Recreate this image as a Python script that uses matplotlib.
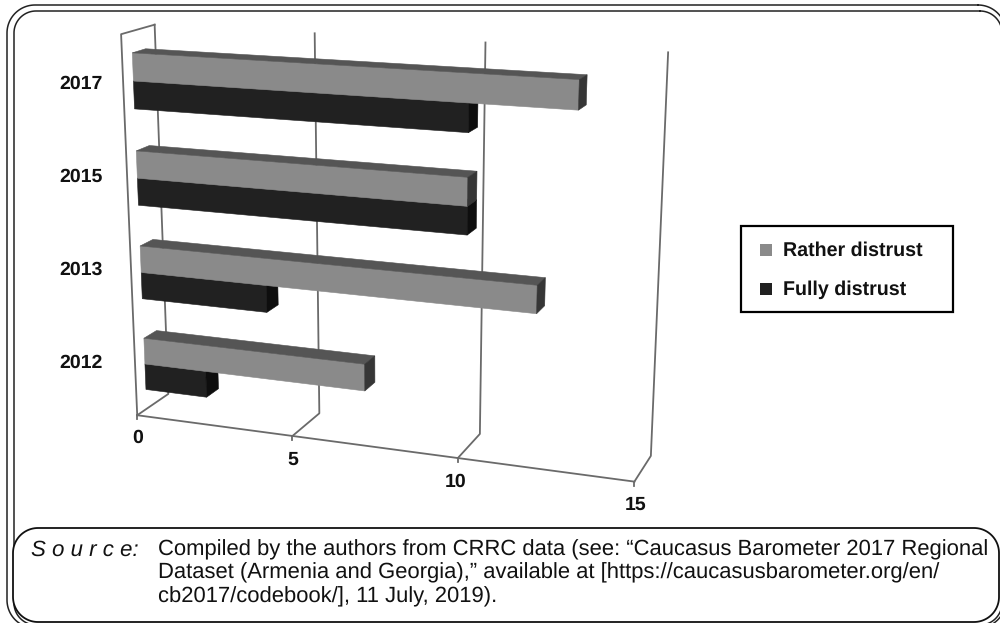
import numpy as np
import matplotlib
matplotlib.use('Agg')
import matplotlib.pyplot as plt
from matplotlib.patches import Polygon, Rectangle

plt.rcParams['font.family'] = ['Liberation Sans', 'DejaVu Sans']
plt.rcParams['text.hinting'] = 'no_hinting'

years = ['2012', '2013', '2015', '2017']
rather_distrust = [7, 12, 10, 13]
fully_distrust = [2, 4, 10, 10]
value_ticks = [0, 5, 10, 15]

source_lines = ['Compiled by the authors from CRRC data (see: \u201cCaucasus Barometer 2017 Regional',
                'Dataset (Armenia and Georgia),\u201d available at [https://caucasusbarometer.org/en/',
                'cb2017/codebook/], 11 July, 2019).']

# camera calibration for the fake 3D box: (value, height, depth) -> pixel
world = np.array([(0, 0, 0), (5, 0, 0), (10, 0, 0), (15, 0, 0), (0, 1, 0),
                  (5, 0, 1), (10, 0, 1), (15, 0, 1),
                  (0, 1, 1), (5, 1, 1), (10, 1, 1), (15, 1, 1)], dtype=float)
pixel = np.array([(137, 415), (293, 437), (458, 458), (634, 481), (121, 34),
                  (319, 413), (480, 433), (651, 457),
                  (155, 25), (314, 33), (486, 43), (668, 52)], dtype=float)


def fit_camera(world, pixel):
    '''
    Fit a 3x4 projection matrix to the calibration points.
    '''
    rows = []
    for (x, y, z), (u, v) in zip(world, pixel):
        rows.append([x, y, z, 1, 0, 0, 0, 0, -u*x, -u*y, -u*z, -u])
        rows.append([0, 0, 0, 0, x, y, z, 1, -v*x, -v*y, -v*z, -v])
    return np.linalg.svd(np.array(rows))[2][-1].reshape(3, 4)


camera = fit_camera(world, pixel)


def project(value, height, depth):
    p = camera @ np.array([value, height, depth, 1.0])
    return p[0] / p[2], p[1] / p[2]


def rounded_rect(x0, y0, x1, y1, r):
    '''
    Outline of a rounded rectangle as a closed polyline.
    '''
    pts = []
    centers = [(x1 - r, y0 + r, -90), (x1 - r, y1 - r, 0), (x0 + r, y1 - r, 90), (x0 + r, y0 + r, 180)]
    for cx, cy, start in centers:
        t = np.radians(np.linspace(start, start + 90, 24))
        pts.extend(zip(cx + r * np.cos(t), cy + r * np.sin(t)))
    pts.append(pts[0])
    return np.array(pts)


DEPTH_FRONT = 0.30
DEPTH_BACK = 0.70
BAR_H = 0.071
LINE = '#6a6a6a'


def draw_bar(ax, value, h0, h1, front, top, side):
    '''
    Draw one bar as its three visible faces.
    '''
    faces = [
        ([(0, h0, DEPTH_FRONT), (value, h0, DEPTH_FRONT), (value, h1, DEPTH_FRONT), (0, h1, DEPTH_FRONT)], front),
        ([(0, h1, DEPTH_FRONT), (value, h1, DEPTH_FRONT), (value, h1, DEPTH_BACK), (0, h1, DEPTH_BACK)], top),
        ([(value, h0, DEPTH_FRONT), (value, h0, DEPTH_BACK), (value, h1, DEPTH_BACK), (value, h1, DEPTH_FRONT)], side),
    ]
    for corners, color in faces:
        ax.add_patch(Polygon([project(*c) for c in corners], closed=True, facecolor=color,
                             edgecolor=color, linewidth=0.4, zorder=4))


fig = plt.figure(figsize=(10, 6.23), dpi=100, facecolor='white')
ax = fig.add_axes([0, 0, 1, 1])
ax.set_xlim(0, 1000)
ax.set_ylim(623, 0)
ax.axis('off')

# outer double frame and the source box
for x0, y0, x1, y1, r in [(7, 5, 1006, 628, 28), (14, 11, 1002, 625, 22)]:
    outline = rounded_rect(x0, y0, x1, y1, r)
    ax.plot(outline[:, 0], outline[:, 1], color='#222222', linewidth=1.1, zorder=1)
ax.add_patch(Polygon(rounded_rect(13, 528, 999, 622, 25), closed=True, facecolor='white',
                     edgecolor='#111111', linewidth=1.3, zorder=2))

# walls and floor
for tick in value_ticks:
    xs, ys = zip(project(tick, 0, 0), project(tick, 0, 1), project(tick, 1, 1))
    ax.plot(xs, ys, color=LINE, linewidth=1.3, zorder=3)
    foot = project(tick, 0, 0)
    ax.plot([foot[0], foot[0]], [foot[1], foot[1] + 4], color=LINE, linewidth=1.3, zorder=3)
xs, ys = zip(project(0, 0, 0), project(15, 0, 0))
ax.plot(xs, ys, color=LINE, linewidth=1.3, zorder=3)
xs, ys = zip(project(0, 0, 0), project(0, 1, 0), project(0, 1, 1))
ax.plot(xs, ys, color=LINE, linewidth=1.3, zorder=3)

# bars, black first so the grey side covers it
label_y = [363, 270, 177, 84]
for i, year in enumerate(years):
    mid = (i + 0.5) / len(years)
    draw_bar(ax, fully_distrust[i], mid - BAR_H, mid, '#212121', '#2c2c2c', '#0e0e0e')
    draw_bar(ax, rather_distrust[i], mid, mid + BAR_H, '#8a8a8a', '#555555', '#363636')
    ax.text(81, label_y[i], year, ha='center', va='center',
            fontsize=14, fontweight='bold', color='#111111', zorder=6)

for tick, dx, dy in zip(value_ticks, [0, 0, -2, 1], [23, 24, 24, 23]):
    foot = project(tick, 0, 0)
    ax.text(foot[0] + dx, foot[1] + dy, str(tick), ha='center', va='center',
            fontsize=14, fontweight='bold', color='#111111', zorder=6)

# legend
ax.add_patch(Rectangle((741, 226), 212, 86, facecolor='white', edgecolor='black', linewidth=1.6, zorder=5))
for y, color, label in [(250, '#8a8a8a', 'Rather distrust'), (289, '#212121', 'Fully distrust')]:
    ax.add_patch(Rectangle((760, y - 6), 12, 12, facecolor=color, edgecolor='none', zorder=6))
    ax.text(783, y + 1, label, ha='left', va='center', fontsize=14.1, fontweight='bold', color='#111111', zorder=6)

# source note
ax.text(31, 550, 'S o u r c e:', ha='left', va='center', fontsize=16, style='italic', color='#111111', zorder=6)
for y, line in zip([550, 573, 597], source_lines):
    ax.text(158, y, line, ha='left', va='center', fontsize=15.8, color='#111111', zorder=6)

fig.savefig('out.png', dpi=100)
